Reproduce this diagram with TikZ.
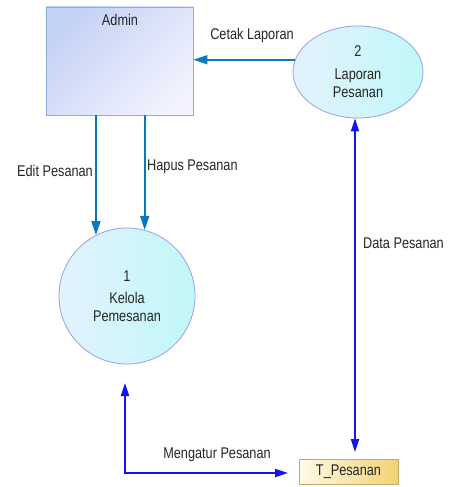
\documentclass[tikz,border=0pt]{standalone}
\usepackage{fontspec}
\setmainfont{Liberation Sans}[FakeStretch=0.82]
\usetikzlibrary{arrows.meta,shapes.geometric}
\definecolor{tealc}{HTML}{0A78C0}
\definecolor{bluec}{HTML}{1414F0}
\definecolor{adminA}{HTML}{C4D2F4}
\definecolor{adminB}{HTML}{F2F2FE}
\definecolor{adminE}{HTML}{8CB0DE}
\definecolor{procA}{HTML}{E4F2FC}
\definecolor{procB}{HTML}{C0F8F8}
\definecolor{procE}{HTML}{9C9CF0}
\definecolor{storeA}{HTML}{FFFBEA}
\definecolor{storeB}{HTML}{F3D272}
\definecolor{storeE}{HTML}{C4AC5C}
\definecolor{txt}{HTML}{262626}
\tikzset{
  entitybox/.style={draw=adminE, line width=0.9pt, rectangle, top color=adminA, bottom color=adminB, shading angle=45, minimum width=147pt, minimum height=108pt, inner sep=0pt},
  procnode/.style={draw=procE, line width=0.8pt, left color=procA, right color=procB, align=center, inner sep=0pt, text=txt},
  storebox/.style={draw=storeE, line width=0.8pt, rectangle, left color=storeA, right color=storeB, minimum width=99pt, minimum height=25pt, inner sep=0pt, text=txt},
  lbl/.style={inner sep=0pt, text=txt},
  tarrow/.style={draw=tealc, line width=1.6pt, -{Triangle[length=14pt,width=9pt]}},
  barrow/.style={draw=bluec, line width=1.9pt, {Triangle[length=13pt,width=8pt]}-{Triangle[length=13pt,width=8pt]}}
}
\begin{document}
\begin{tikzpicture}[x=1pt,y=-1pt, font=\fontsize{15.5}{18}\selectfont]
\useasboundingbox (0,0) rectangle (453,487);
\fill[white] (0,0) rectangle (453,487);

\node[entitybox] (admin) at (119.5,61) {};
\node[lbl] (admint) at (120,20) {Admin};

\node[procnode, ellipse, minimum width=130pt, minimum height=92pt] (p2) at (358,72) {2\\[5pt]Laporan\\Pesanan};
\node[procnode, circle, minimum size=136pt] (p1) at (127,296) {1\\[4pt]Kelola\\Pemesanan};
\node[storebox] (tp) at (348.5,471.5) {T\_Pesanan};

% flows
\draw[tarrow] (p2.169) -- (admin.east |- p2.169);
\draw[tarrow] (admin.south -| p1.117) -- (p1.117);
\draw[tarrow] (admin.south -| p1.75) -- (p1.75);

\coordinate (dpend) at (355,452);
\draw[barrow] (p2.south -| dpend) -- (dpend);

\coordinate (mtop) at (125,383);
\coordinate (mend) at (288,473);
\draw[barrow] (mtop) |- (mend);

% labels
\node[lbl] (lcetak) at (252,35) {Cetak Laporan};
\node[lbl, anchor=east] (ledit) at (93,171) {Edit Pesanan};
\node[lbl, anchor=west] (lhapus) at (147,167) {Hapus Pesanan};
\node[lbl, anchor=west] (ldata) at (363,243) {Data Pesanan};
\node[lbl] (lmeng) at (217,455) {Mengatur Pesanan};
\end{tikzpicture}
\end{document}
